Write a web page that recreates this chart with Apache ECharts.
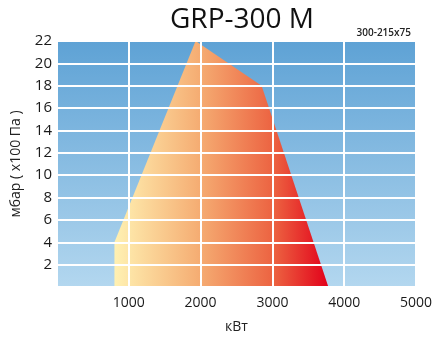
<!DOCTYPE html>
<html><head><meta charset="utf-8">
<script src="https://cdn.jsdelivr.net/npm/echarts@6/dist/echarts.min.js"></script>
<style>html,body{margin:0;padding:0;background:#fff}#c{width:435px;height:337px}</style>
</head><body><div id="c"></div>
<script>
var titleText = 'GRP-300 M';
var codeText = '300-215x75';
var xName = 'кВт';
var yName = 'мбар ( x100 Па )';
var xTicks = [0, 1000, 2000, 3000, 4000, 5000];
var yTicks = [0, 2, 4, 6, 8, 10, 12, 14, 16, 18, 20, 22];
var envelopeX = [800, 800, 1930, 2850, 3780];
var envelopeY = [0, 4, 22, 18, 0];

var FONT = '"Open Sans", "Noto Sans", sans-serif';
var chart = echarts.init(document.getElementById('c'), null, {renderer: 'canvas'});
var data = envelopeX.map(function (x, i) { return [x, envelopeY[i]]; });
chart.setOption({
  animation: false,
  title: [
    {text: titleText, left: 237, top: 1, textAlign: 'center',
     textStyle: {fontFamily: FONT, fontSize: 28, fontWeight: 'normal', color: '#111'}},
    {text: codeText, right: 19, top: 23,
     textStyle: {fontFamily: FONT, fontSize: 10, fontWeight: 600, color: '#222'}}
  ],
  grid: {left: 57, right: 19, top: 41, bottom: 50, show: true, borderWidth: 0,
    containLabel: false, outerBoundsMode: 'none',
    backgroundColor: new echarts.graphic.LinearGradient(0, 0, 0, 1, [
      {offset: 0, color: '#5ea2d5'}, {offset: 1, color: '#b3d7ef'}])},
  xAxis: {type: 'value', min: 0, max: 5000, interval: 1000, z: 5,
    name: xName, nameLocation: 'middle', nameGap: 33,
    nameTextStyle: {fontFamily: FONT, fontSize: 14, color: '#222'},
    axisLine: {show: false}, axisTick: {show: false},
    axisLabel: {fontFamily: FONT, fontSize: 14, color: '#1a1a1a', margin: 9,
      formatter: function (v) { return (v === 0) ? '' : String(v); }},
    splitLine: {show: true, lineStyle: {color: '#ffffff', width: 2}}},
  yAxis: {type: 'value', min: 0, max: 22, interval: 2, z: 5,
    name: yName, nameLocation: 'middle', nameGap: 34, nameRotate: 90,
    nameTextStyle: {fontFamily: FONT, fontSize: 14, color: '#222'},
    axisLine: {show: false}, axisTick: {show: false},
    axisLabel: {fontFamily: FONT, fontSize: 15, color: '#1a1a1a', margin: 5,
      formatter: function (v) { return (v === 0) ? '' : String(v); }},
    splitLine: {show: true, lineStyle: {color: '#ffffff', width: 2}}},
  series: [{
    type: 'line', data: data, z: 2, symbol: 'none', silent: true,
    lineStyle: {width: 0},
    areaStyle: {opacity: 1, origin: 'start',
      color: new echarts.graphic.LinearGradient(0, 0, 1, 0, [
        {offset: 0, color: '#fff1b2'},
        {offset: 0.4, color: '#f5ac72'},
        {offset: 0.75, color: '#ec6140'},
        {offset: 1, color: '#e2001a'}])}
  }]
});
</script></body></html>
